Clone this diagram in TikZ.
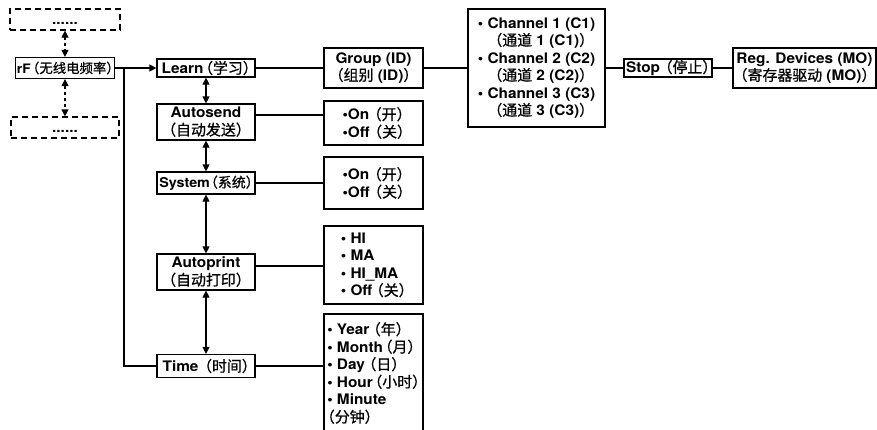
\documentclass[tikz,border=0pt]{standalone}
\usepackage{fontspec}
\setmainfont{TeX Gyre Heros}[FakeStretch=1.06, BoldFeatures={FakeStretch=1.06}]
\newfontfamily\cjk{Noto Sans CJK SC}[Scale=1.03, RawFeature=+halt, FakeBold=0.8]
\usetikzlibrary{arrows.meta, calc}

\newcommand{\zh}[1]{{\cjk\mdseries #1}}

\begin{document}
\begin{tikzpicture}[
    x=1pt, y=-1pt,
    font=\fontsize{14.5}{17.5}\selectfont\bfseries,
    menu/.style={draw, line width=1.2pt, inner sep=0pt, align=center},
    more/.style={draw, line width=1.2pt, dash pattern=on 6pt off 4pt, inner sep=0pt, minimum height=21pt, text height=10pt, text depth=0pt},
    choice/.style={draw, line width=1.2pt, inner sep=0pt, align=left},
    link/.style={line width=1.2pt},
    arrow/.style={-{Triangle[length=7pt,width=7pt]}, line width=1.2pt},
    both/.style={{Triangle[length=7pt,width=7pt]}-{Triangle[length=7pt,width=7pt]}, line width=1.2pt},
    dboth/.style={both, dash pattern=on 3pt off 3pt}
]
    \useasboundingbox (0,0) rectangle (877,429);

    % rF and the items above and below it
    \node[more, minimum width=110pt] (top) at (65,19.5) {......};
    \node[menu, minimum width=99pt, minimum height=21pt, font=\fontsize{13}{17.5}\selectfont\bfseries] (rf) at (65,68) {rF\hspace{2pt}\zh{（无线电频率）}};
    \node[more, minimum width=108pt] (bot) at (65,127.5) {......};

    % Menu column
    \node[menu, minimum width=98pt, minimum height=18pt] (learn) at (206,68) {Learn\hspace{2pt}\zh{（学习）}};
    \node[menu, minimum width=98pt, minimum height=36pt] (autosend) at (206,122) {Autosend\\\zh{（自动发送）}};
    \node[menu, minimum width=98pt, minimum height=22pt, font=\fontsize{13.5}{17.5}\selectfont\bfseries] (system) at (206,183) {System\hspace{1pt}\zh{（系统）}};
    \node[menu, minimum width=98pt, minimum height=36pt] (autoprint) at (206,272) {Autoprint\\\zh{（自动打印）}};
    \node[menu, minimum width=98pt, minimum height=23pt] (time) at (206,366) {Time\hspace{6pt}\zh{（时间）}};

    % Settings
    \node[menu, minimum width=99pt, minimum height=40pt] (group) at (373.5,68) {Group (ID)\\\zh{（组别} (ID)\zh{）}};
    \node[choice, minimum width=99pt, minimum height=44pt] (asopt) at (373.5,123) {\textbullet On\hspace{5pt}\zh{（开）}\\\textbullet Off\hspace{5pt}\zh{（关）}};
    \node[choice, minimum width=99pt, minimum height=52pt] (sysopt) at (373.5,183) {\textbullet On\hspace{5pt}\zh{（开）}\\\textbullet Off\hspace{5pt}\zh{（关）}};
    \node[choice, minimum width=99pt, minimum height=78pt] (apopt) at (373.5,265) {\textbullet{} HI\\\textbullet{} MA\\\textbullet{} HI\_MA\\\textbullet{} Off\hspace{4pt}\zh{（关）}};
    \node[choice, minimum width=99pt, minimum height=118pt] (timeopt) at (373.5,373) {\textbullet{} Year\hspace{4pt}\zh{（年）}\\\textbullet{} Month\hspace{2pt}\zh{（月）}\\\textbullet{} Day\hspace{4pt}\zh{（日）}\\\textbullet{} Hour\hspace{2pt}\zh{（小时）}\\\textbullet{} Minute\\\zh{（分钟）}};

    % Channel, stop and device
    \node[choice, minimum width=137pt, minimum height=118pt] (chan) at (536.5,68) {\textbullet{} Channel 1 (C1)\\\hspace*{17pt}\zh{（通道} 1 (C1)\zh{）}\\\textbullet{} Channel 2 (C2)\\\hspace*{17pt}\zh{（通道} 2 (C2)\zh{）}\\\textbullet{} Channel 3 (C3)\\\hspace*{17pt}\zh{（通道} 3 (C3)\zh{）}};
    \node[menu, minimum width=88pt, minimum height=18pt] (stop) at (668,68) {Stop\hspace{5pt}\zh{（停止）}};
    \node[menu, minimum width=143pt, minimum height=40pt] (reg) at (804.5,68) {Reg. Devices (MO)\\\zh{（寄存器驱动} (MO)\zh{）}};

    % Connections
    \draw[dboth] (top) -- (rf);
    \draw[dboth] (rf) -- (bot);
    \draw[arrow] (rf) -- (learn);
    \coordinate (split) at (124,68);
    \draw[link] (split) |- (time.west);
    \draw[both] (learn) -- (autosend);
    \draw[both] (autosend) -- (system);
    \draw[both] (system) -- (autoprint);
    \draw[both] (autoprint) -- (time);

    \draw[link] (learn) -- (group);
    \draw[link] (group) -- (chan);
    \draw[link] (chan) -- (stop);
    \draw[link] (stop) -- (reg);
    \draw[link] ([yshift=7pt]autosend.east) -- ([yshift=7pt]autosend.east -| asopt.west);
    \draw[link] (system) -- (sysopt);
    \draw[link] ([yshift=6pt]autoprint.east) -- ([yshift=6pt]autoprint.east -| apopt.west);
    \draw[link] (time.east) -- (time.east -| timeopt.west);
\end{tikzpicture}
\end{document}
